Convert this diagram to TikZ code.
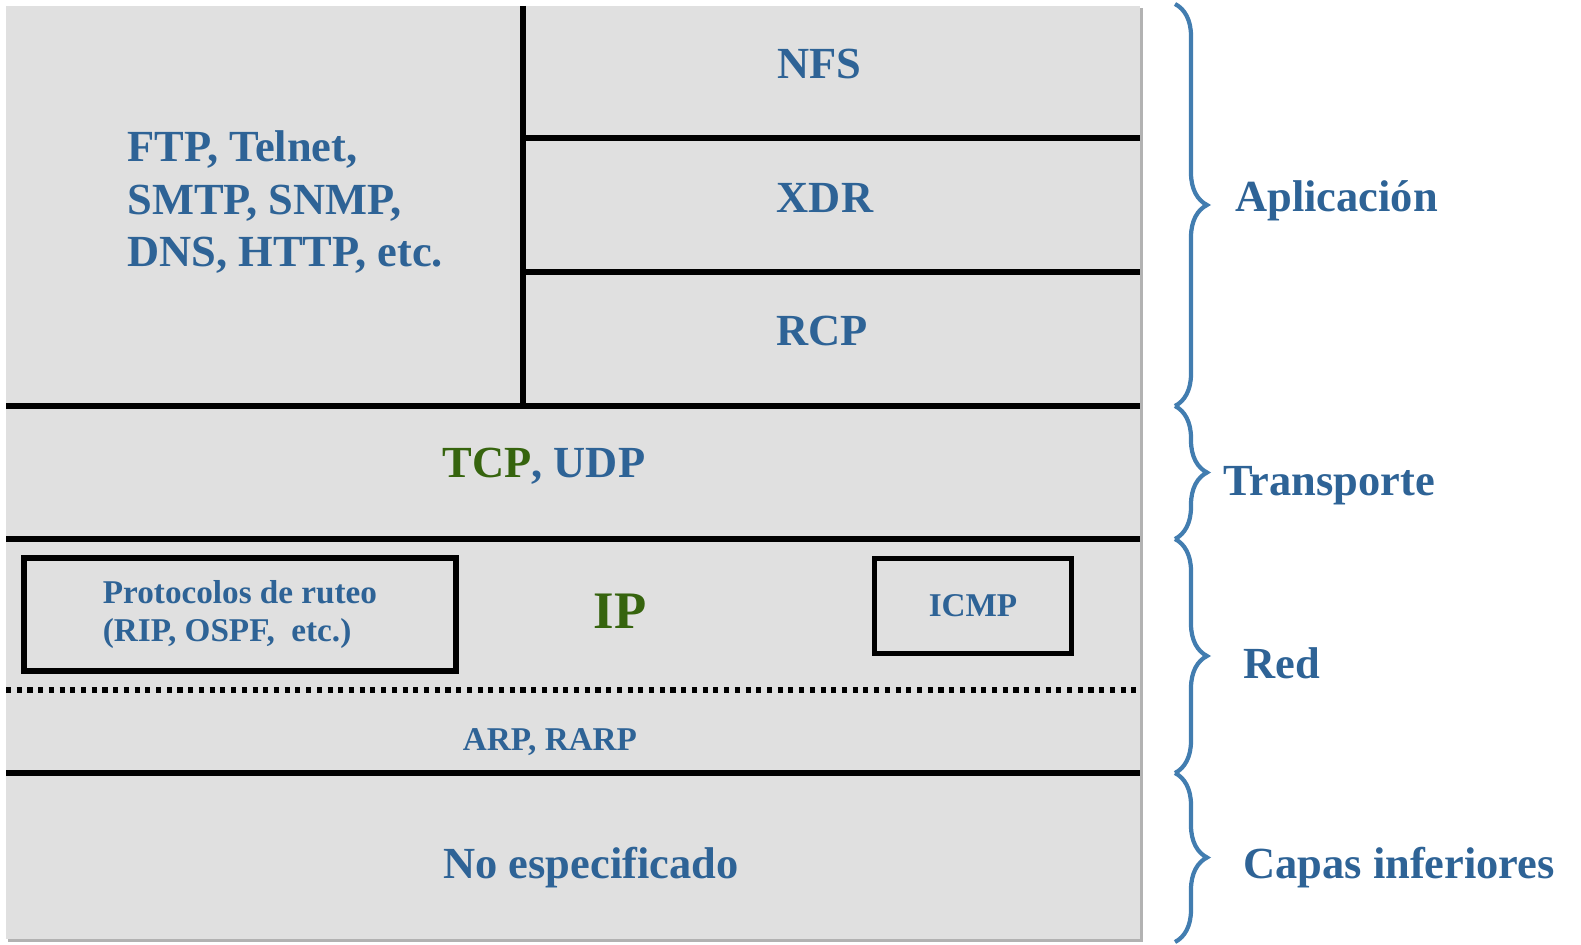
\documentclass[tikz,border=0pt]{standalone}
\usepackage{fontspec}
\setmainfont{Liberation Serif}
\usepackage{tikz}
\usetikzlibrary{decorations.pathreplacing}

\definecolor{layerblue}{RGB}{46,99,150}
\definecolor{braceblue}{RGB}{66,125,176}
\definecolor{ipgreen}{RGB}{54,100,14}
\definecolor{layergray}{RGB}{224,224,224}

\begin{document}
\begin{tikzpicture}[
		x=0.02cm, y=-0.02cm,
		layer_line/.style={line width=2.9pt, black},
		layer_text/.style={font=\fontsize{25.3}{29.9}\selectfont\bfseries, text=layerblue, inner sep=0pt},
		small_text/.style={font=\fontsize{18.9}{21.6}\selectfont\bfseries, text=layerblue, inner sep=0pt, align=center},
		proto_box/.style={rectangle, draw=black, line width=2.9pt, small_text},
		layer_brace/.style={decorate, decoration={brace, amplitude=18.2pt}, draw=braceblue, line width=2.4pt},
		brace_label/.style={layer_text, anchor=base west}
		]
		\useasboundingbox (0,0) rectangle (1581,945);
		
		% Background panel with shadow
		\fill[black!30] (8,8) rectangle (1143,942);
		\fill[layergray] (6,6) rectangle (1140,939);
		
		% Layer separators
		\draw[layer_line] (523,6) -- (523,406);
		\draw[layer_line] (523,138) -- (1140,138);
		\draw[layer_line] (523,272) -- (1140,272);
		\draw[layer_line] (6,406) -- (1140,406);
		\draw[layer_line] (6,539) -- (1140,539);
		\draw[layer_line, dash pattern=on 2.9pt off 3.2pt] (6,690) -- (1140,690);
		\draw[layer_line] (6,773) -- (1140,773);
		
		% Application layer
		\node[layer_text, anchor=base] (nfs) at (819,79) {NFS};
		\node[layer_text, anchor=base] (xdr) at (825,213) {XDR};
		\node[layer_text, anchor=base] (rcp) at (822,346) {RCP};
		\node[layer_text, anchor=base west, align=left] (apps) at (127,267) {FTP, Telnet,\\SMTP, SNMP,\\DNS, HTTP, etc.};
		
		% Transport layer
		\node[layer_text, anchor=base] (tcpudp) at (544,478) {\textcolor{ipgreen}{TCP}, UDP};
		
		% Network layer
		\node[proto_box, align=left, minimum width=8.64cm, minimum height=2.26cm] (ruteo) at (240,614.5) {Protocolos de ruteo\\(RIP, OSPF,\ \ etc.)};
		\node[layer_text, font=\fontsize{30}{36}\selectfont\bfseries, text=ipgreen, anchor=base] (ip) at (620,628) {IP};
		\node[proto_box, minimum width=3.94cm, minimum height=1.9cm] (icmp) at (973,606) {ICMP};
		\node[small_text, anchor=base] (arp) at (550,750) {ARP, RARP};
		
		% Lower layers
		\node[layer_text, anchor=base] (noesp) at (591,878) {No especificado};
		
		% Braces and layer names
		\coordinate (b0) at (1175,4);
		\coordinate (b1) at (1175,406);
		\coordinate (b2) at (1175,539);
		\coordinate (b3) at (1175,773);
		\coordinate (b4) at (1175,942);
		\draw[layer_brace] (b0) -- (b1);
		\draw[layer_brace] (b1) -- (b2);
		\draw[layer_brace] (b2) -- (b3);
		\draw[layer_brace] (b3) -- (b4);
		
		\node[brace_label] (lblapp) at (1235,212) {Aplicación};
		\node[brace_label] (lbltrans) at (1223,495) {Transporte};
		\node[brace_label] (lblred) at (1243,678) {Red};
		\node[brace_label] (lblinf) at (1243,878) {Capas inferiores};
		
	\end{tikzpicture}
\end{document}
